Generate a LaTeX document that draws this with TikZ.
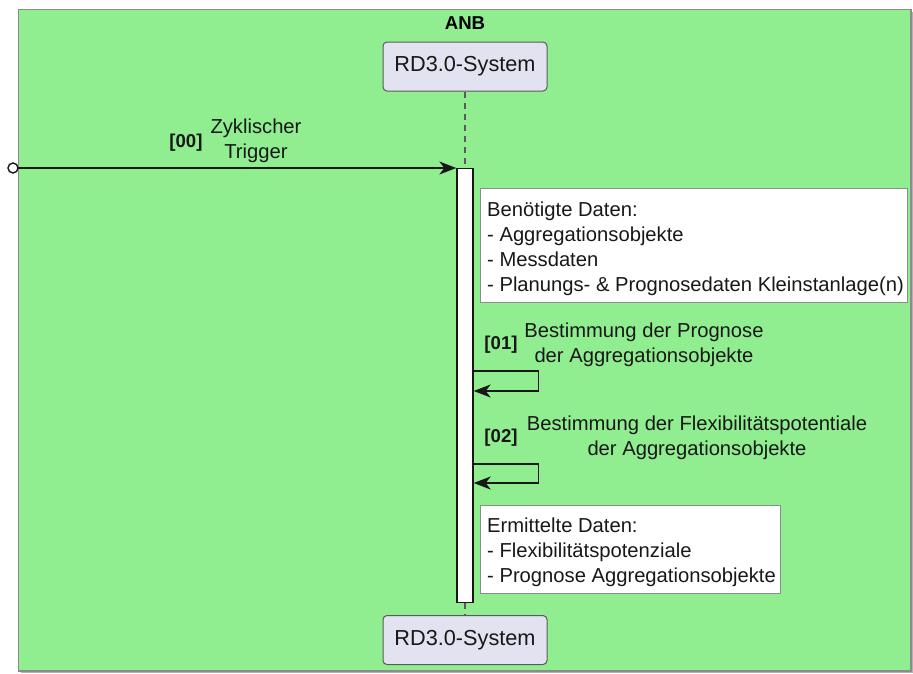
\documentclass[tikz,border=0pt]{standalone}
\usepackage{fontspec}
\setmainfont{Liberation Sans}
\usetikzlibrary{arrows.meta}
\definecolor{framegreen}{HTML}{90EE90}
\definecolor{framegray}{HTML}{8C8C8C}
\definecolor{partfill}{HTML}{E2E2F0}
\definecolor{partline}{HTML}{5A5A5A}
\definecolor{ink}{HTML}{181818}
\tikzset{
  txt/.style={font=\fontsize{20.2}{25}\selectfont, inner sep=0pt, text=ink},
  num/.style={font=\bfseries\fontsize{18.6}{22}\selectfont, inner sep=0pt, text=ink},
  participant/.style={draw=partline, line width=1pt, fill=partfill, rounded corners=4pt,
    minimum width=164pt, minimum height=49pt, inner sep=0pt,
    font=\fontsize{21.7}{26}\selectfont, text=ink},
  notebox/.style={draw=framegray, line width=0.9pt, fill=white, anchor=north west, inner sep=0pt},
  notetext/.style={anchor=west, align=left, inner sep=0pt,
    font=\fontsize{20.2}{25}\selectfont, text=ink},
  activation/.style={draw=ink, line width=1.4pt, fill=white, minimum width=16pt, inner sep=0pt},
  lifeline/.style={draw=partline, line width=1.3pt, dash pattern=on 6pt off 5pt},
  msg/.style={draw=ink, line width=1.4pt, -{Stealth[length=17pt,width=13pt,inset=5pt]}},
}
\begin{document}
\begin{tikzpicture}[x=1pt, y=-1pt]
  \useasboundingbox (0,0) rectangle (913,673);

  % Frame of the ANB box
  \fill[black!30] (21,12) rectangle (913,673);
  \draw[framegray, line width=1.5pt, fill=framegreen] (18.5,9.5) rectangle (911,671);
  \node[font=\bfseries\fontsize{18.6}{22}\selectfont, inner sep=0pt] (anb) at (465,23) {ANB};

  % Participant heads
  \node[participant] (top) at (465,66.5) {RD3.0-System};
  \node[participant] (bot) at (465,640) {RD3.0-System};

  % Activation bar on the lifeline
  \node[activation, minimum height=434pt, anchor=north] (bar) at (465,168) {};

  % Lifeline pieces
  \draw[lifeline] (top.south) -- (bar.north);
  \draw[lifeline] (bar.south) -- (bot.north);

  % [00] incoming trigger
  \coordinate (start) at (13,168);
  \draw[msg] (start) ++(5,0) -- (bar.north west);
  \draw[ink, line width=1.4pt, fill=white] (start) circle (5pt);
  \node[num] (n00) at (186,143) {[00]};
  \node[txt, align=center] (l00) at (256,140.5) {Zyklischer\\Trigger};

  % Note: required data
  \node[notebox, minimum width=427pt, minimum height=114pt] (note1) at (480,188) {};
  \node[notetext] (note1t) at ([xshift=7pt, yshift=-3pt]note1.west)
    {Benötigte Daten:\\- Aggregationsobjekte\\- Messdaten\\- Planungs- \& Prognosedaten Kleinstanlage(n)};

  % [01] self message
  \coordinate (s1a) at (bar.east |- 0,371);
  \coordinate (s1b) at (bar.east |- 0,391);
  \draw[msg] (s1a) -- ++(65,0) |- (s1b);
  \node[num] (n01) at (501,345) {[01]};
  \node[txt, align=center] (l01) at (644,344.5) {Bestimmung der Prognose\\der Aggregationsobjekte};

  % [02] self message
  \coordinate (s2a) at (bar.east |- 0,464);
  \coordinate (s2b) at (bar.east |- 0,483);
  \draw[msg] (s2a) -- ++(65,0) |- (s2b);
  \node[num] (n02) at (501,438) {[02]};
  \node[txt, align=center] (l02) at (697,437.5) {Bestimmung der Flexibilitätspotentiale\\der Aggregationsobjekte};

  % Note: determined data
  \node[notebox, minimum width=300pt, minimum height=88pt] (note2) at (480,505) {};
  \node[notetext] (note2t) at ([xshift=7pt, yshift=-3pt]note2.west)
    {Ermittelte Daten:\\- Flexibilitätspotenziale\\- Prognose Aggregationsobjekte};
\end{tikzpicture}
\end{document}
